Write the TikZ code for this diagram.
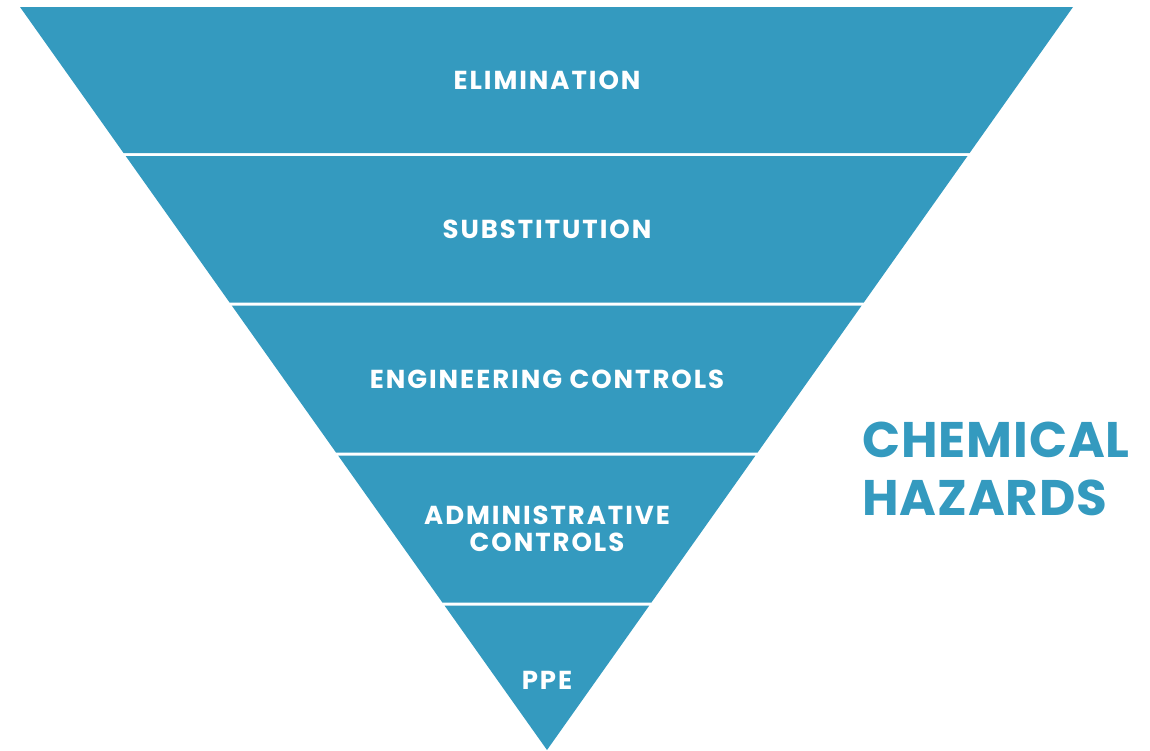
\documentclass[tikz,border=0pt]{standalone}
\usepackage{fontspec}
\setmainfont{Poppins}
\newfontfamily\bandfont{Poppins}[LetterSpace=7.5]
\newfontfamily\titlefont{Poppins}[LetterSpace=1.8]
\definecolor{hazblue}{RGB}{52,154,191}
\begin{document}
\begin{tikzpicture}[x=1pt,y=-1pt,
  band/.style={fill=hazblue,draw=none},
  bandlabel/.style={text=white,inner sep=0pt,align=center,
    font=\bandfont\fontsize{26}{27}\selectfont\bfseries},
  titlelabel/.style={text=hazblue,inner sep=0pt,anchor=base west,
    font=\titlefont\fontsize{50}{58}\selectfont\bfseries}]
\useasboundingbox (0,0) rectangle (1150,750);
% edges of the inverted triangle: left (20,7)->(547,750), right (1073,7)->(547,750)
\def\xl#1{20+0.70929*(#1-7)}
\def\xr#1{1073-0.70794*(#1-7)}
\foreach \t/\b in {7/153, 156/302.5, 305.5/452.5, 455.5/602.5}{
  \fill[band] ({\xl{\t}},\t) -- ({\xr{\t}},\t) -- ({\xr{\b}},\b) -- ({\xl{\b}},\b) -- cycle;
}
\fill[band] ({\xl{605.5}},605.5) -- ({\xr{605.5}},605.5) -- (547,750) -- cycle;
\node[bandlabel] (elim) at (547,80) {ELIMINATION};
\node[bandlabel] (subst) at (547,229.5) {SUBSTITUTION};
\node[bandlabel] (eng) at (547,379) {ENGINEERING CONTROLS};
\node[bandlabel] (admin) at (547,529) {ADMINISTRATIVE\\CONTROLS};
\node[bandlabel] (ppe) at (547,680) {PPE};
\node[titlelabel] (chem) at (862,457.5) {CHEMICAL};
\node[titlelabel] (haz) at (862,515.5) {HAZARDS};
\end{tikzpicture}
\end{document}
